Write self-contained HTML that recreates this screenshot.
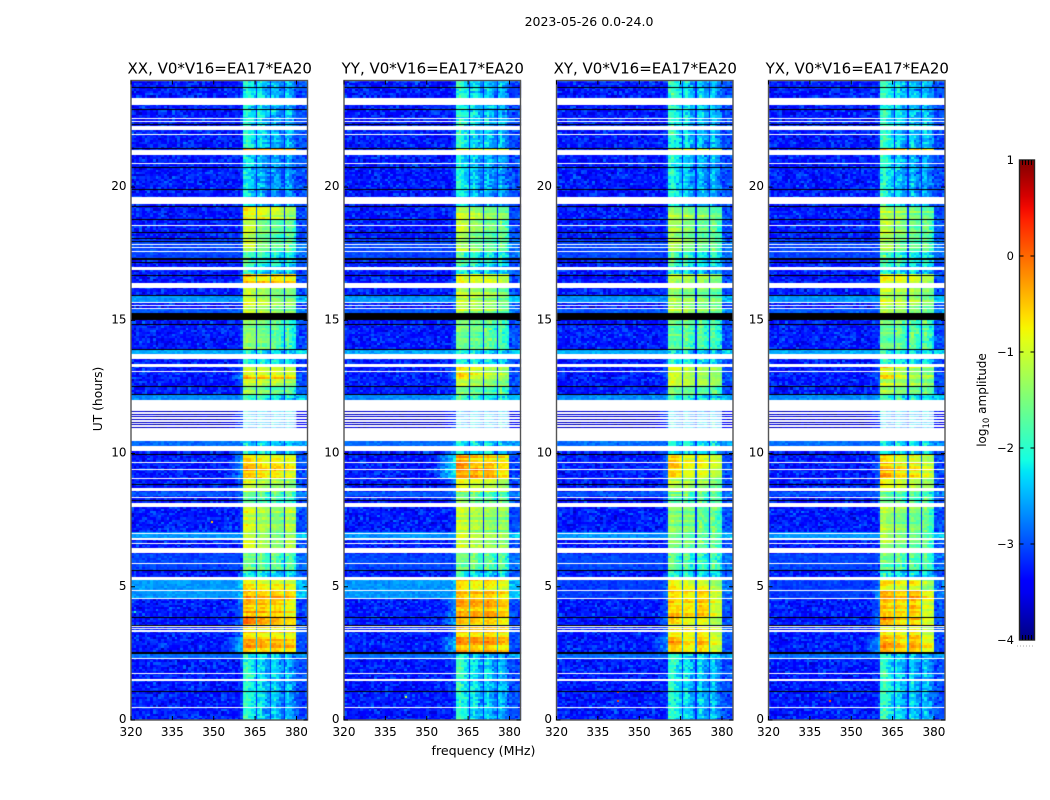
<!DOCTYPE html>
<html>
<head>
<meta charset="utf-8">
<title>2023-05-26 spectra</title>
<style>
html,body{margin:0;padding:0;background:#fff;}
#stage{position:relative;width:1050px;height:800px;overflow:hidden;background:#fff;font-family:"DejaVu Sans","Liberation Sans",sans-serif;}
canvas{position:absolute;top:0;left:0;}
svg{position:absolute;top:0;left:0;}
text{font-family:"DejaVu Sans","Liberation Sans",sans-serif;fill:#000;}
</style>
</head>
<body>
<div id="stage">
<canvas id="heat" width="1050" height="800"></canvas>
<svg id="ov" width="1050" height="800">
  <defs><linearGradient id="cbg" x1="0" y1="1" x2="0" y2="0"></linearGradient></defs>
  <text x="589" y="26" font-size="12.5" text-anchor="middle">2023-05-26 0.0-24.0</text>
  <text x="483.5" y="755" font-size="12.6" text-anchor="middle">frequency (MHz)</text>
  <text transform="translate(102,399) rotate(-90)" font-size="12.3" text-anchor="middle">UT (hours)</text>
  <text transform="translate(986,400) rotate(-90)" font-size="12" text-anchor="middle">log<tspan font-size="8.5" dy="3">10</tspan><tspan dy="-3"> amplitude</tspan></text>
</svg>
</div>
<script>
// ---------- data ----------
const panelTitles = ['XX, V0*V16=EA17*EA20','YY, V0*V16=EA17*EA20','XY, V0*V16=EA17*EA20','YX, V0*V16=EA17*EA20'];
const freqTicks = [320,335,350,365,380];
const utTicks = [0,5,10,15,20];
const colorTicks = [1,0,-1,-2,-3,-4];
const colorTickLabels = ['1','0','\u22121','\u22122','\u22123','\u22124'];

// top UT of each observing segment (a segment runs down to the next value)
const segmentTops = [24,21.45,21.37,19.27,18.78,17.62,17.0,16.69,16.2,15.03,13.91,13.35,12.94,12.82,12.5,12.21,12.0,10.46,9.97,9.4,9.0,8.59,8.14,6.3,5.6,5.26,4.87,4.57,3.9,3.6,3.1,2.55];

// log10 amplitude per segment: four sub-bands, then the shoulder below the band
const levelsXX = [[-2.25,-2.45,-2.65,-2.65,-3.2],[-.4,-.4,-.4,-.6,-3.2],[-2.35,-2.65,-2.75,-2.75,-3.2],[-.9,-1.05,-1.2,-1.4,-3.2],[-1.05,-1.5,-1.7,-1.8,-3.2],[-1.9,-2.1,-2.3,-2.3,-3.2],[-2.2,-2.4,-2.5,-2.5,-3.2],[-.6,-.7,-.65,-.75,-3.1],[-1,-1.2,-1.4,-1.5,-3.1],[-1.4,-1.6,-1.8,-2,-3.2],[-2.2,-2.3,-2.4,-2.5,-3.1],[-1,-1,-1,-1.1,-3],[-.4,-.45,-.45,-.55,-2.7],[-1,-1.1,-1.1,-1.3,-3],[-1.3,-1.5,-1.7,-1.8,-3.1],[-2,-2.1,-2.3,-2.3,-2.6],[-2.5,-2.5,-2.5,-2.5,-3.2],[-2.3,-2.3,-2.4,-2.4,-2.8],[-.6,-.8,-.8,-.9,-2.8],[-.5,-.7,-.7,-.9,-2.8],[-1,-1.2,-1.3,-1.4,-3],[-1.7,-1.9,-1.9,-2,-3],[-1.05,-1.3,-1.5,-1.25,-3.2],[-1.6,-1.8,-1.8,-1.9,-3.1],[-2.2,-2.3,-2.4,-2.4,-3],[-.65,-.8,-.8,-.9,-2.5],[-.3,-.4,-.4,-.5,-2.5],[-.45,-.5,-.55,-.8,-2.9],[-.25,-.5,-.6,-.8,-2.9],[-.7,-.75,-.75,-.85,-2.9],[-.35,-.45,-.45,-.55,-2.6],[-2.15,-2.45,-2.55,-2.65,-3.2]];
const levelsYY = [[-2.15,-2.45,-2.55,-2.65,-3.2],[-.7,-.7,-.7,-.9,-3.2],[-2.25,-2.55,-2.65,-2.75,-3.2],[-1.2,-1.3,-1.5,-1.6,-3.2],[-1.2,-1.5,-1.7,-1.8,-3.2],[-1.9,-2.1,-2.3,-2.3,-3.2],[-2.2,-2.4,-2.5,-2.5,-3.2],[-.9,-.95,-.95,-1.1,-3.1],[-1.15,-1.3,-1.4,-1.6,-3.1],[-1.6,-1.7,-1.8,-2,-3.2],[-2.2,-2.3,-2.4,-2.5,-3.1],[-.8,-1,-1.2,-1.3,-3],[-.6,-1,-1.1,-1.3,-2.8],[-1,-1.2,-1.3,-1.4,-3],[-1.4,-1.6,-1.7,-1.8,-3.1],[-2,-2.1,-2.3,-2.3,-2.6],[-2.5,-2.5,-2.5,-2.5,-3.2],[-2.3,-2.3,-2.4,-2.4,-2.8],[-.35,-.6,-.6,-.8,-2.4],[-.3,-.35,-.4,-.7,-2.3],[-.9,-1,-1.1,-1.3,-2.9],[-1.6,-1.8,-1.9,-1.9,-3],[-1.1,-1.25,-1.4,-1.4,-3.2],[-1.6,-1.8,-1.8,-1.9,-3.1],[-2.2,-2.3,-2.4,-2.4,-3],[-.6,-.75,-.7,-.9,-2.5],[-.4,-.4,-.4,-.6,-2.5],[-.5,-.55,-.5,-.7,-2.8],[-.35,-.5,-.5,-.7,-2.7],[-.7,-.7,-.65,-.8,-2.9],[-.4,-.45,-.4,-.6,-2.6],[-2.15,-2.45,-2.55,-2.65,-3.2]];
const levelsXY = [[-2.15,-2.45,-2.55,-2.65,-3.2],[-.9,-.9,-.9,-1.1,-3.2],[-2.25,-2.55,-2.65,-2.75,-3.2],[-1.3,-1.4,-1.5,-1.7,-3.2],[-1.3,-1.55,-1.7,-1.8,-3.2],[-1.9,-2.1,-2.3,-2.3,-3.2],[-2.2,-2.4,-2.5,-2.5,-3.2],[-1.1,-1.15,-1.2,-1.4,-3.1],[-1.3,-1.4,-1.5,-1.6,-3.1],[-1.7,-1.8,-1.9,-2,-3.2],[-2.2,-2.3,-2.4,-2.5,-3.1],[-1,-1.2,-1.3,-1.4,-3],[-1,-1.2,-1.3,-1.4,-3],[-1.2,-1.3,-1.4,-1.5,-3.1],[-1.5,-1.6,-1.7,-1.8,-3.1],[-2,-2.1,-2.3,-2.3,-2.7],[-2.5,-2.5,-2.5,-2.5,-3.2],[-2.3,-2.3,-2.4,-2.4,-2.9],[-.6,-.9,-.9,-1.1,-3],[-.6,-.9,-.9,-1.1,-3],[-1.1,-1.2,-1.3,-1.5,-3.1],[-1.7,-1.9,-1.9,-2,-3],[-1.5,-1.6,-1.8,-1.8,-3.2],[-1.8,-1.9,-2,-2,-3.1],[-2.2,-2.3,-2.4,-2.4,-3.1],[-.9,-1,-1,-1.4,-3],[-.6,-.7,-.55,-1,-2.9],[-.7,-.75,-.65,-1.1,-3],[-.4,-.75,-.7,-1.1,-2.9],[-.85,-.9,-.8,-1.2,-3],[-.45,-.75,-.55,-1,-2.7],[-2.15,-2.45,-2.55,-2.65,-3.2]];
const levelsYX = [[-2.15,-2.45,-2.55,-2.65,-3.2],[-.6,-.7,-.7,-.9,-3.2],[-2.25,-2.55,-2.65,-2.75,-3.2],[-1.2,-1.35,-1.5,-1.65,-3.2],[-1.2,-1.5,-1.7,-1.8,-3.2],[-1.9,-2.1,-2.3,-2.3,-3.2],[-2.2,-2.4,-2.5,-2.5,-3.2],[-.95,-1,-1.1,-1.3,-3.1],[-1.15,-1.3,-1.4,-1.6,-3.1],[-1.7,-1.8,-1.9,-2,-3.2],[-2.2,-2.3,-2.4,-2.5,-3.1],[-.8,-1.1,-1.2,-1.4,-3],[-.7,-1,-1.2,-1.3,-3],[-1.1,-1.2,-1.3,-1.5,-3.1],[-1.4,-1.6,-1.7,-1.8,-3.1],[-2,-2.1,-2.3,-2.3,-2.7],[-2.5,-2.5,-2.5,-2.5,-3.2],[-2.3,-2.3,-2.4,-2.4,-2.9],[-.55,-.85,-.85,-1.1,-3],[-.5,-.8,-.85,-1.1,-3],[-1,-1.2,-1.3,-1.5,-3.1],[-1.7,-1.9,-1.9,-2,-3],[-1.3,-1.5,-1.6,-1.8,-3.2],[-1.7,-1.9,-1.9,-2,-3.1],[-2.2,-2.3,-2.4,-2.4,-3.1],[-.75,-.9,-.85,-1.3,-3],[-.45,-.6,-.5,-.9,-2.8],[-.55,-.65,-.55,-1,-3],[-.35,-.65,-.6,-1,-2.9],[-.75,-.8,-.7,-1.1,-3],[-.4,-.65,-.5,-.9,-2.7],[-2.15,-2.45,-2.55,-2.65,-3.2]];
const panelLevels = [levelsXX,levelsYY,levelsXY,levelsYX];

// sub-band edges in MHz
const subBandEdges = [[360.6,365.4],[365.8,370.4],[370.8,375.3],[375.7,380.0]];

// elevated-background stretches: UT high, UT low, log10 amplitude
const sharedBackgroundBands = [[15.93,15.69,-2.65],[15.45,15.3,-2.95],[13.91,13.72,-2.55],[12.21,12.0,-2.7],[11.59,10.91,-3.7],[10.46,10.28,-2.85],[8.59,8.37,-2.95],[7.01,6.84,-2.65],[6.27,5.6,-3.05],[2.49,2.32,-2.85],[18.0,17.3,-3.05]];
const parallelBackgroundBands = [[5.35,4.57,-2.65]];
const crossBackgroundBands = [[5.35,4.57,-3.1]];

// flagged (blank) and zero-amplitude (black) UT ranges
const whiteBands = [[23.33,23.07],[22.59,22.55],[22.47,22.43],[22.31,22.16],[22.01,21.97],[21.39,21.22],[20.92,20.89],[19.62,19.41],[19.39,19.36],[18.58,18.54],[17.87,17.81],[17.75,17.71],[17.6,17.56],[17.0,16.87],[16.39,16.2],[15.69,15.65],[15.58,15.54],[15.45,15.41],[13.72,13.55],[13.35,13.24],[13.1,13.07],[12.0,11.59],[11.56,11.5],[11.46,11.4],[11.36,11.3],[11.26,11.2],[11.16,11.1],[11.06,11.0],[10.96,10.91],[10.91,10.46],[10.28,10.09],[9.67,9.64],[9.43,9.39],[9.07,9.04],[8.7,8.59],[8.37,8.34],[8.14,7.99],[7.01,6.97],[6.84,6.75],[6.64,6.6],[6.46,6.27],[5.89,5.85],[5.35,5.26],[4.87,4.84],[4.57,4.54],[3.52,3.49],[3.45,3.41],[3.37,3.31],[2.32,2.29],[1.76,1.72],[1.53,1.47],[0.49,0.45]];
const blackBands = [[23.77,23.74],[22.93,22.88],[22.37,22.34],[21.46,21.43],[20.77,20.71],[19.94,19.88],[19.28,19.25],[18.8,18.77],[18.3,18.27],[18.08,18.05],[17.97,17.94],[17.32,17.25],[17.18,17.15],[16.7,16.67],[15.94,15.91],[15.28,15.03],[14.87,14.81],[13.94,13.91],[12.52,12.49],[12.22,12.19],[9.98,9.93],[8.87,8.84],[8.26,8.23],[8.16,8.13],[5.62,5.59],[3.85,3.82],[3.58,3.55],[2.55,2.48],[1.08,1.05]];
const paleInBandUT = [11.59,10.91];

// bright single-channel spikes: panel, UT, MHz, log10 amplitude
const spikePanels = [0,2,2,3,3,0,1];
const spikeUT = [7.45,1.1,0.75,1.1,0.75,4.1,0.9];
const spikeFreq = [349,342,342,342,342,321,342];
const spikeValues = [-0.5,0.2,0.2,0.1,0.1,-2,-1];

// hand-written texture table for the speckle of the receiver noise
const grainTable = [.31,-.72,.14,.88,-.45,-.09,.63,-.97,.22,.51,-.33,.77,-.61,.05,-.18,.92,-.84,.39,.11,-.56,.68,-.27,.46,-.79,.02,.83,-.41,-.13,.57,-.66,.29,.95,-.52,-.03,.36,-.89,.73,-.22,.17,.6,-.71,.42,-.35,.86,-.07,-.94,.24,.53,-.48,.8,-.16,.09,-.63,.34,.98,-.75,.19,-.29,.66,-.5,.44,-.11,.75,-.86,.27,.01,-.38,.9,-.59,.13,.49,-.24,-.81,.7,.06,-.43,.37,-.68,.85,-.2,.55,-.91,.16,.32,-.54,.79,-.04,-.31,.62,-.77,.47,.21,-.15,.93,-.65,.08,-.26];
const channelShape = [.12,.2,.06,-.04,-.14];

// ---------- layout ----------
const panelLeft = [131,344,556.5,768.5];
const panelWidth = 176.5, plotTop = 80.5, plotBottom = 720;
const freqMin = 320, freqMax = 384, utMax = 24, rowStep = 0.08;
const cbX = 1019.5, cbW = 15, cbTop = 160, cbBottom = 640;

function xScale(p,f){return panelLeft[p]+(f-freqMin)/(freqMax-freqMin)*panelWidth;}
function yScale(u){return plotBottom-u/utMax*(plotBottom-plotTop);}
function cbScale(v){return cbBottom-(v+4)/5*(cbBottom-cbTop);}

function lerpStops(t,s){for(let i=1;i<s.length;i++){if(t<=s[i][0]){const a=s[i-1],b=s[i];return a[1]+(b[1]-a[1])*(t-a[0])/(b[0]-a[0]);}}return s[s.length-1][1];}
const jetR=[[0,0],[.35,0],[.66,1],[.89,1],[1,.5]],jetG=[[0,0],[.125,0],[.375,1],[.64,1],[.91,0],[1,0]],jetB=[[0,.5],[.11,1],[.34,1],[.65,0],[1,0]];
function jet(v){const t=Math.max(0,Math.min(1,(v+4)/5));return 'rgb('+Math.round(255*lerpStops(t,jetR))+','+Math.round(255*lerpStops(t,jetG))+','+Math.round(255*lerpStops(t,jetB))+')';}

function segmentIndex(u){let k=0;for(let i=0;i<segmentTops.length;i++){if(u<=segmentTops[i])k=i;}return k;}
function grain(c,r,p){
  const h=((c+1)*73856093^(r+1)*19349663^(p+1)*83492791)>>>0;
  return (grainTable[h%97]+grainTable[(h>>>9)%97])*0.6;
}
function rowGrain(r,p){return grainTable[((r+3)*(r+3)*29+p*7)%97];}

// column list: below band, sub-bands with gaps, above band
function buildColumns(){
  const cols=[];
  const n0=41,w0=(subBandEdges[0][0]-freqMin)/n0;
  for(let i=0;i<n0;i++)cols.push({a:freqMin+i*w0,b:freqMin+(i+1)*w0,kind:'bg',f:freqMin+(i+.5)*w0});
  subBandEdges.forEach((e,s)=>{
    const w=(e[1]-e[0])/5;
    for(let i=0;i<5;i++)cols.push({a:e[0]+i*w,b:e[0]+(i+1)*w,kind:'band',s:s,ch:i});
    if(s<3)cols.push({a:e[1],b:subBandEdges[s+1][0],kind:'gap',s:s});
  });
  const last=subBandEdges[3][1],w1=(freqMax-last)/4;
  for(let i=0;i<4;i++)cols.push({a:last+i*w1,b:last+(i+1)*w1,kind:'hi'});
  return cols;
}
const columns = buildColumns();

function cellValue(p,c,col,r,u){
  const L=panelLevels[p][segmentIndex(u)];
  const g=grain(c,r,p);
  const sharedBg=sharedBackgroundBands.find(b=>u<=b[0]&&u>=b[1]);
  const extra=(p<2?parallelBackgroundBands:crossBackgroundBands).find(b=>u<=b[0]&&u>=b[1]);
  const bgBand=extra||sharedBg;
  let base=bgBand?bgBand[2]:-3.28;
  if(col.kind==='bg'){
    const sh=L[4]+(col.f-359.5)*0.12;
    if(col.f>353&&sh>base)return sh+g*.3;
    return base+g*(bgBand?.18:.42);
  }
  if(col.kind==='hi')return base+.25+g*.32;
  if(col.kind==='gap')return Math.max(L[col.s]-2.0,-3.2)+g*.12;
  const quiet=L[col.s]<-1.7;
  return L[col.s]+channelShape[col.ch]*(quiet?1.4:.5)+g*(quiet?.4:.2)+rowGrain(r,p)*(quiet?.1:.28);
}

// ---------- heatmap ----------
const ctx=document.getElementById('heat').getContext('2d');
ctx.fillStyle='#fff';ctx.fillRect(0,0,1050,800);
const rowCount=Math.round(utMax/rowStep);
for(let p=0;p<4;p++){
  const right=Math.round(xScale(p,freqMax));
  for(let r=0;r<rowCount;r++){
    const u=(r+.5)*rowStep;
    const y1=Math.round(yScale(u+rowStep/2)),y2=Math.round(yScale(u-rowStep/2));
    columns.forEach((col,c)=>{
      const x1=Math.round(xScale(p,col.a)),x2=Math.min(right,Math.round(xScale(p,col.b)));
      if(x2<=x1)return;
      ctx.fillStyle=jet(cellValue(p,c,col,r,u));
      ctx.fillRect(x1,y1,x2-x1,y2-y1);
    });
  }
  spikeUT.forEach((u,i)=>{
    if(spikePanels[i]!==p)return;
    ctx.fillStyle=jet(spikeValues[i]);
    ctx.fillRect(Math.round(xScale(p,spikeFreq[i])),Math.round(yScale(u)),2,2);
  });
  const L=Math.round(xScale(p,freqMin)),W=right-L;
  blackBands.forEach(b=>{
    const y1=Math.round(yScale(b[0])),y2=Math.max(y1+1,Math.round(yScale(b[1])));
    ctx.fillStyle='#000';ctx.fillRect(L,y1,W,y2-y1);
  });
  whiteBands.forEach(b=>{
    const y1=Math.round(yScale(b[0])),y2=Math.max(y1+1,Math.round(yScale(b[1])));
    ctx.fillStyle='#fff';ctx.fillRect(L,y1,W,y2-y1);
  });
  ctx.fillStyle='rgba(255,255,255,.6)';
  const px1=xScale(p,subBandEdges[0][0]),px2=xScale(p,subBandEdges[3][1]);
  ctx.fillRect(px1,yScale(paleInBandUT[0]),px2-px1,yScale(paleInBandUT[1])-yScale(paleInBandUT[0]));
}

// ---------- axes ----------
const svg=document.getElementById('ov');
const NS='http://www.w3.org/2000/svg';
function line(x1,y1,x2,y2,col,w){
  const l=document.createElementNS(NS,'line');
  l.setAttribute('x1',x1);l.setAttribute('y1',y1);l.setAttribute('x2',x2);l.setAttribute('y2',y2);
  l.setAttribute('stroke',col);l.setAttribute('stroke-width',w);
  svg.appendChild(l);
  return l;
}
function label(x,y,s,size,anchor){
  const t=document.createElementNS(NS,'text');
  t.setAttribute('x',x);t.setAttribute('y',y);t.setAttribute('font-size',size);t.setAttribute('text-anchor',anchor);
  t.textContent=s;
  svg.appendChild(t);
  return t;
}
panelTitles.forEach((title,p)=>{
  const L=panelLeft[p],R=L+panelWidth;
  const frame=document.createElementNS(NS,'rect');
  frame.setAttribute('x',L);frame.setAttribute('y',plotTop);frame.setAttribute('width',panelWidth);frame.setAttribute('height',plotBottom-plotTop);
  frame.setAttribute('fill','none');frame.setAttribute('stroke','#555');frame.setAttribute('stroke-width','1.4');
  
  
  svg.appendChild(frame);
  const ttl=label(L+panelWidth/2+.5,73.5,title,15,'middle');
  
  
  freqTicks.forEach(f=>{
    const x=xScale(p,f);
    const a=line(x,plotBottom,x,plotBottom-4,'#000',1);
    
    
    const b=line(x,plotTop,x,plotTop+4,'#000',1);
    
    
    const t=label(x,736,String(f),12,'middle');
    
    
  });
  utTicks.forEach(u=>{
    const y=yScale(u);
    const a=line(L,y,L+4,y,'#000',1);
    
    
    const b=line(R,y,R-4,y,'#000',1);
    
    
    const t=label(L-4.5,y+3,String(u),12,'end');
    
    
  });
});

// ---------- colorbar ----------
const grad=document.getElementById('cbg');
for(let i=0;i<=40;i++){
  const s=document.createElementNS(NS,'stop');
  s.setAttribute('offset',(i/40));
  s.setAttribute('stop-color',jet(-4+5*i/40));
  grad.appendChild(s);
}
const bar=document.createElementNS(NS,'rect');
bar.setAttribute('x',cbX);bar.setAttribute('y',cbTop);bar.setAttribute('width',cbW);bar.setAttribute('height',cbBottom-cbTop);
bar.setAttribute('fill','url(#cbg)');bar.setAttribute('stroke','#222');bar.setAttribute('stroke-width','1.4');


svg.appendChild(bar);
colorTicks.forEach((v,i)=>{
  const y=cbScale(v);
  if(i>0&&i<colorTicks.length-1){
    const a=line(cbX,y,cbX+4,y,'#000',1);
    
    
    const b=line(cbX+cbW,y,cbX+cbW-4,y,'#000',1);
    
    
  }
  const t=label(1014,y+4,colorTickLabels[i],11.5,'end');
  
  
});
for(let i=1;i<5;i++){
  const x=cbX+i*cbW/5;
  const a=line(x,cbTop,x,cbTop+5,'#000',1);
  
  
  const b=line(x,cbBottom,x,cbBottom-5,'#000',1);
  
  
}
const dots=line(1017,646,1035,646,'#aaa',1);
dots.setAttribute('stroke-dasharray','1 2');


</script>
</body>
</html>
